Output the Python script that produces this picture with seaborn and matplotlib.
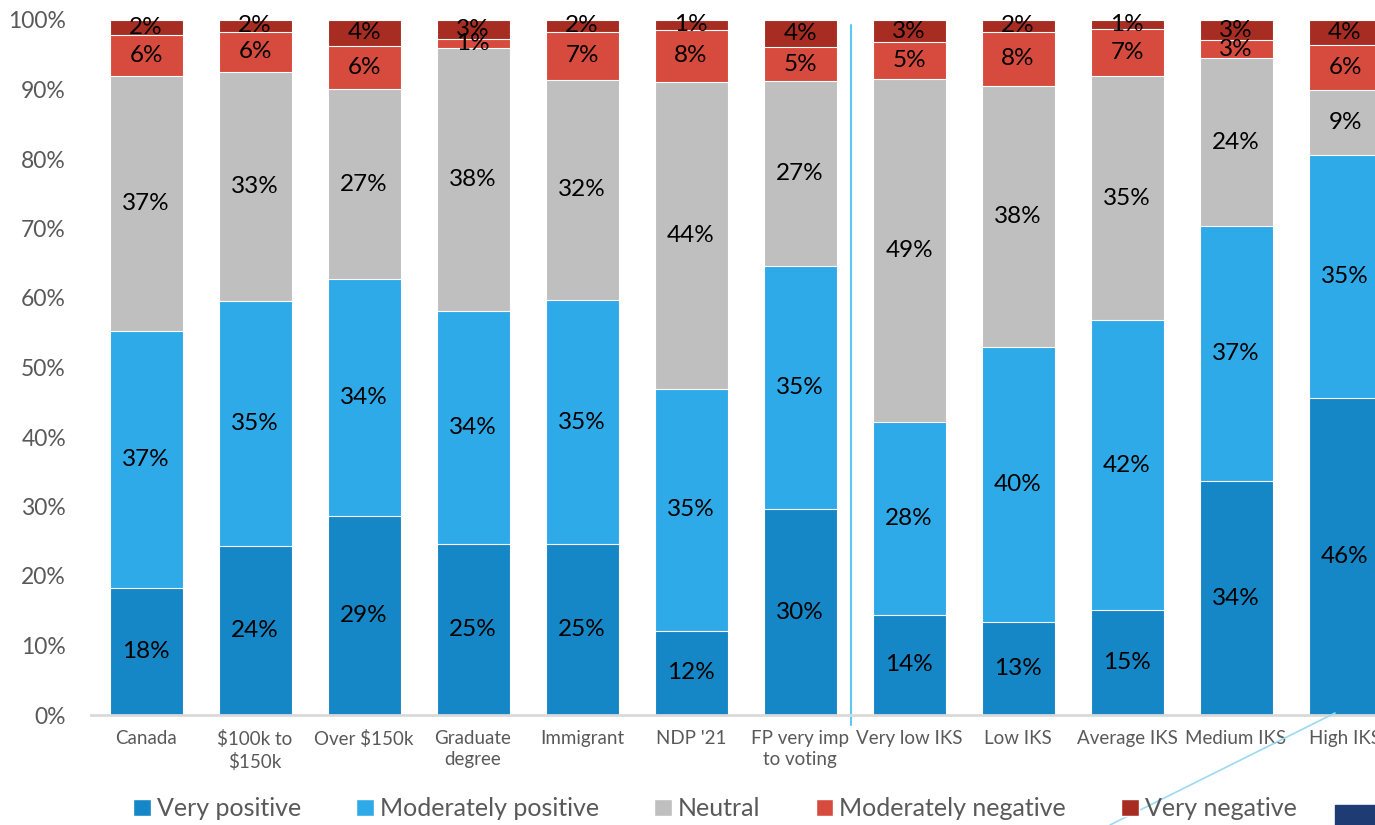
import numpy as np
import pandas as pd
import seaborn as sns
import matplotlib.pyplot as plt
from matplotlib.patches import Patch, Rectangle
from matplotlib.lines import Line2D

categories = ["Canada", "$100k to\n$150k", "Over $150k", "Graduate\ndegree", "Immigrant",
              "NDP '21", "FP very imp\nto voting", "Very low IKS", "Low IKS",
              "Average IKS", "Medium IKS", "High IKS"]
series = ["Very positive", "Moderately positive", "Neutral",
          "Moderately negative", "Very negative"]

very_positive = [18.3, 24.3, 28.6, 24.6, 24.6, 12.1, 29.6, 14.4, 13.4, 15.1, 33.6, 45.6]
mod_positive = [37.0, 35.3, 34.1, 33.6, 35.1, 34.8, 35.0, 27.8, 39.6, 41.7, 36.7, 35.0]
neutral = [36.6, 32.9, 27.4, 37.8, 31.7, 44.2, 26.6, 49.3, 37.5, 35.1, 24.2, 9.3]
mod_negative = [5.9, 5.8, 6.2, 1.3, 6.9, 7.5, 4.9, 5.3, 7.8, 6.8, 2.6, 6.5]
very_negative = [2.2, 1.7, 3.7, 2.7, 1.7, 1.4, 3.9, 3.2, 1.7, 1.3, 2.9, 3.6]

colors = ["#1586C6", "#2FAAE9", "#BFBFBF", "#D64B3D", "#A72D23"]

plt.rcParams['text.parse_math'] = False
sns.set_style("white")
plt.rcParams['font.family'] = ['Lato', 'DejaVu Sans']

df = pd.DataFrame({"cat": categories,
                   "Very positive": very_positive,
                   "Moderately positive": mod_positive,
                   "Neutral": neutral,
                   "Moderately negative": mod_negative,
                   "Very negative": very_negative})
cum = df[series].cumsum(axis=1)

fig = plt.figure(figsize=(13.75, 8.25), dpi=100)
ax = fig.add_axes([91 / 1375, 1 - 715 / 825, 1 - 91 / 1375, 695 / 825])

# draw cumulative totals from the top down so each shorter bar covers the taller one
for s, c in reversed(list(zip(series, colors))):
    sns.barplot(x=df["cat"], y=cum[s], color=c, width=0.67, saturation=1,
                edgecolor="white", linewidth=0.8, ax=ax)

# labels in the middle of each segment
for i in range(len(categories)):
    lower = 0
    for s in series:
        v = df[s][i]
        ax.text(i, lower + v / 2, f"{v:.0f}%", ha="center", va="center",
                fontsize=17.5, color="black", clip_on=False)
        lower += v

ax.set_ylim(0, 100)
ax.set_xlim(-0.505, 11.275)
ax.set_yticks(np.arange(0, 101, 10))
ax.set_yticklabels([f"{t}%" for t in range(0, 101, 10)])
ax.tick_params(axis="y", labelsize=16.5, labelcolor="#595959", length=0, pad=18)
ax.tick_params(axis="x", labelsize=13.5, labelcolor="#595959", length=0, pad=11)
for lab in ax.get_xticklabels():
    lab.set_linespacing(1.3)
ax.set_xlabel("")
ax.set_ylabel("")
for sp in ["top", "right", "left"]:
    ax.spines[sp].set_visible(False)
ax.spines["bottom"].set_color("#D9D9D9")
ax.spines["bottom"].set_linewidth(2)

# divider between groups
ax.plot([6.47, 6.47], [-1.5, 99.3], color="#5BC8F0", linewidth=1.5, clip_on=False)

handles = [Patch(facecolor=c, label=s) for s, c in zip(series, colors)]
fig.legend(handles=handles, loc="center", bbox_to_anchor=(0.52, 0.02), ncol=5,
           frameon=False, fontsize=18, handlelength=0.7, handleheight=0.7,
           handletextpad=0.25, columnspacing=2.2, labelcolor="#595959")

# slide decoration in the corner
fig.add_artist(Line2D([1335 / 1375, 1110 / 1375], [1 - 713 / 825, 0], color="#9ADAF3",
                      linewidth=1.2, transform=fig.transFigure))
fig.add_artist(Rectangle((1335 / 1375, 0), 40 / 1375, 20 / 825, color="#1F3B73",
                         transform=fig.transFigure))

fig.savefig("out.png", dpi=100)
